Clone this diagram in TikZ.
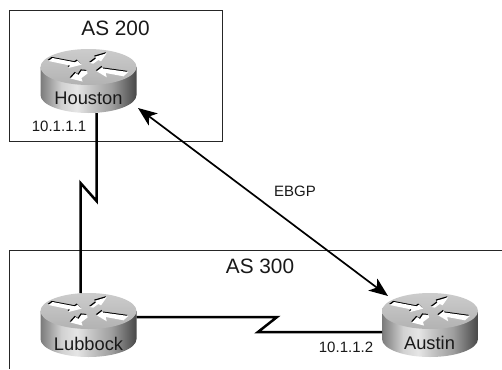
\documentclass[tikz,border=0pt]{standalone}
\usepackage{fontspec}
\setmainfont{Liberation Sans}
\usetikzlibrary{arrows.meta}
\pgfdeclarehorizontalshading{routerbody}{100bp}{
  color(0bp)=(black!52); color(25bp)=(black!52); color(36bp)=(black!18); color(44bp)=(black!10);
  color(52bp)=(black!24); color(62bp)=(black!38); color(75bp)=(black!72); color(100bp)=(black!72)}
\tikzset{
  x=1pt,y=-1pt,
  zone/.style={draw=black!85,line width=1pt},
  serial/.style={draw=black,line width=2.5pt,line join=miter},
  bgp/.style={draw=black,line width=1.7pt,{Stealth[length=19pt,width=15pt,inset=5pt]}-{Stealth[length=19pt,width=15pt,inset=5pt]}},
  routerbox/.style={minimum width=96pt,minimum height=64pt,inner sep=0pt,outer sep=0pt},
  rlabel/.style={font=\fontsize{18.3}{18.3}\selectfont,inner sep=0pt,text=black!90},
  addr/.style={font=\fontsize{15}{15}\selectfont,inner sep=0pt,text=black!90},
  zonelabel/.style={font=\fontsize{20.8}{20.8}\selectfont,inner sep=0pt,text=black!90},
}
\newcommand{\routerarrows}{%
  \foreach \pts in {%
    {(-40,-6)--(-36,-9)--(-13.5,-4.7)--(-11,-6.3)--(-7,-2.3)--(-20,1)--(-18.5,-1.5)},
    {(18.2,-13.7)--(6.5,-10.3)--(7.5,-8.5)--(1.5,-4)--(4.8,-3.3)--(9.8,-7)--(12.5,-5.7)},
    {(8.2,4.3)--(13.8,0)--(14.5,1.5)--(39.8,5)--(35,9.3)--(17.2,6)--(18.2,10.3)},
    {(-1.5,4)--(-7,3.5)--(-10,8)--(-13,6)--(-18,11.5)--(-6,14.5)--(-7,11)--(-1,6.5)}%
  }{%
    \fill[black] [shift={(-0.8,-1.1)}] \pts --cycle;
    \fill[white] \pts --cycle;
  }%
}
\newcommand{\router}[3]{% name, x, y of the box centre
  \node[routerbox] (#1) at (#2,#3) {};
  \begin{scope}[shift={(#2,#3)}]
    \shade[shading=routerbody]
      (-48,-14) -- (-48,14) arc[start angle=180,end angle=0,x radius=48,y radius=18] -- (48,-14) -- cycle;
    \shade[shading angle=0,top color=black!20,bottom color=black!30]
      (0,-14) ellipse[x radius=48,y radius=18];
    \begin{scope}[shift={(0,-14)}]\routerarrows\end{scope}
  \end{scope}
}
\begin{document}
\begin{tikzpicture}
\useasboundingbox (0,0) rectangle (502,369);
\fill[white] (0,0) rectangle (502,369);
% zones
\coordinate (z2a) at (9,11); \coordinate (z2b) at (222.5,141.5);
\draw[zone] (z2a) rectangle (z2b);
\coordinate (z3a) at (9,369); \coordinate (z3b) at (9,250); \coordinate (z3c) at (502,250);
\draw[zone] (z3a) -- (z3b) -- (z3c);
\node[zonelabel] (as200) at (115.5,28) {AS 200};
\node[zonelabel] (as300) at (260,266) {AS 300};
% routers
\router{houston}{88.5}{81}
\router{lubbock}{88.5}{325}
\router{austin}{430}{325}
\node[rlabel] (lh) at (88.5,98) {Houston};
\node[rlabel] (ll) at (88.5,344) {Lubbock};
\node[rlabel] (la) at (429.5,343) {Austin};
% serial links
\coordinate (k1) at (96.5,201); \coordinate (k2) at (80.5,183);
\draw[serial] ([xshift=8pt]houston.south) -- (k1) -- (k2) -- (lubbock.north -| k2);
\coordinate (k3) at (277,317); \coordinate (k4) at (258,332);
\draw[serial] (lubbock.east |- k3) -- (k3) -- (k4) -- (austin.west |- k4);
% EBGP
\coordinate (e1) at (138,108); \coordinate (e2) at (388,296);
\draw[bgp] (e1) -- (e2);
\node[addr] (ebgp) at (295,191) {EBGP};
\node[addr] (a1) at (59,126) {10.1.1.1};
\node[addr] (a2) at (346,347) {10.1.1.2};
\end{tikzpicture}
\end{document}
